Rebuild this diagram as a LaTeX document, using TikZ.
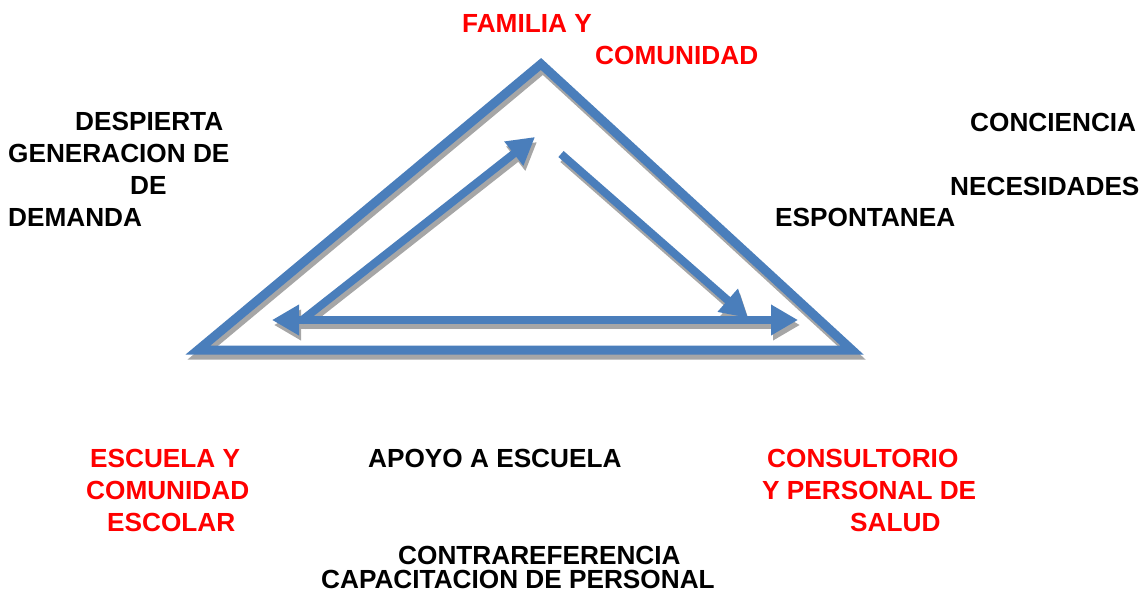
\documentclass[tikz,border=0pt]{standalone}
\usepackage{fontspec}
\setmainfont{Liberation Sans}
\usepackage{tikz}
\usetikzlibrary{arrows.meta}
\definecolor{Steel}{HTML}{4A7EBB}
\definecolor{Shade}{HTML}{A6A6A6}
\definecolor{Red}{HTML}{FF0000}
\newcommand{\lblfont}{\fontsize{26.2}{30}\selectfont\bfseries}
\begin{document}
\begin{tikzpicture}[x=1pt,y=-1pt,
  lbl/.style={font=\lblfont,anchor=base west,inner sep=0pt},
  place/.style={lbl,text=Red},
  side/.style={line width=9pt,line join=miter},
  flow/.style={line width=8pt,-{Triangle[length=27pt,width=29pt]}},
  both/.style={line width=8pt,{Triangle[length=27pt,width=29pt]}-{Triangle[length=27pt,width=29pt]}}
]
\useasboundingbox (0,0) rectangle (1148,594);
% corners of the triangle
\coordinate (top) at (541,64);
\coordinate (bl) at (198,350);
\coordinate (br) at (852,350);
% inner arrows
\coordinate (upS) at (301,321);
\coordinate (upE) at (535,137);
\coordinate (dnS) at (561,154);
\coordinate (dnE) at (748,318);
\coordinate (hL) at (272,320);
\coordinate (hR) at (798,320);
\foreach \c/\dx/\dy in {Shade/2pt/-5pt,Steel/0pt/0pt} {
  \begin{scope}[transform canvas={xshift=\dx,yshift=\dy}]
    \draw[side,draw=\c] (top) -- (bl) -- (br) -- cycle;
    \draw[flow,draw=\c] (upS) -- (upE);
    \draw[flow,draw=\c] (dnS) -- (dnE);
    \draw[both,draw=\c] (hL) -- (hR);
  \end{scope}
}
% labels
\node[place] (fam1) at (462,33) {FAMILIA Y};
\node[place] (fam2) at (595,65) {COMUNIDAD};
\node[lbl] (desp) at (75,130) {DESPIERTA};
\node[lbl] (gen) at (8,162) {GENERACION DE};
\node[lbl] (de) at (130,194) {DE};
\node[lbl] (dem) at (8,226) {DEMANDA};
\node[lbl] (conc) at (970,131) {CONCIENCIA};
\node[lbl] (nec) at (950,195) {NECESIDADES};
\node[lbl] (esp) at (775,226) {ESPONTANEA};
\node[place] (esc1) at (90,467) {ESCUELA Y};
\node[place] (esc2) at (86,499) {COMUNIDAD};
\node[place] (esc3) at (107,531) {ESCOLAR};
\node[lbl] (apoyo) at (368,467) {APOYO A ESCUELA};
\node[lbl] (contra) at (398,564) {CONTRAREFERENCIA};
\node[lbl] (capac) at (321,588) {CAPACITACION DE PERSONAL};
\node[place] (cons1) at (767,467) {CONSULTORIO};
\node[place] (cons2) at (762,499) {Y PERSONAL DE};
\node[place] (cons3) at (850,531) {SALUD};
\end{tikzpicture}
\end{document}
